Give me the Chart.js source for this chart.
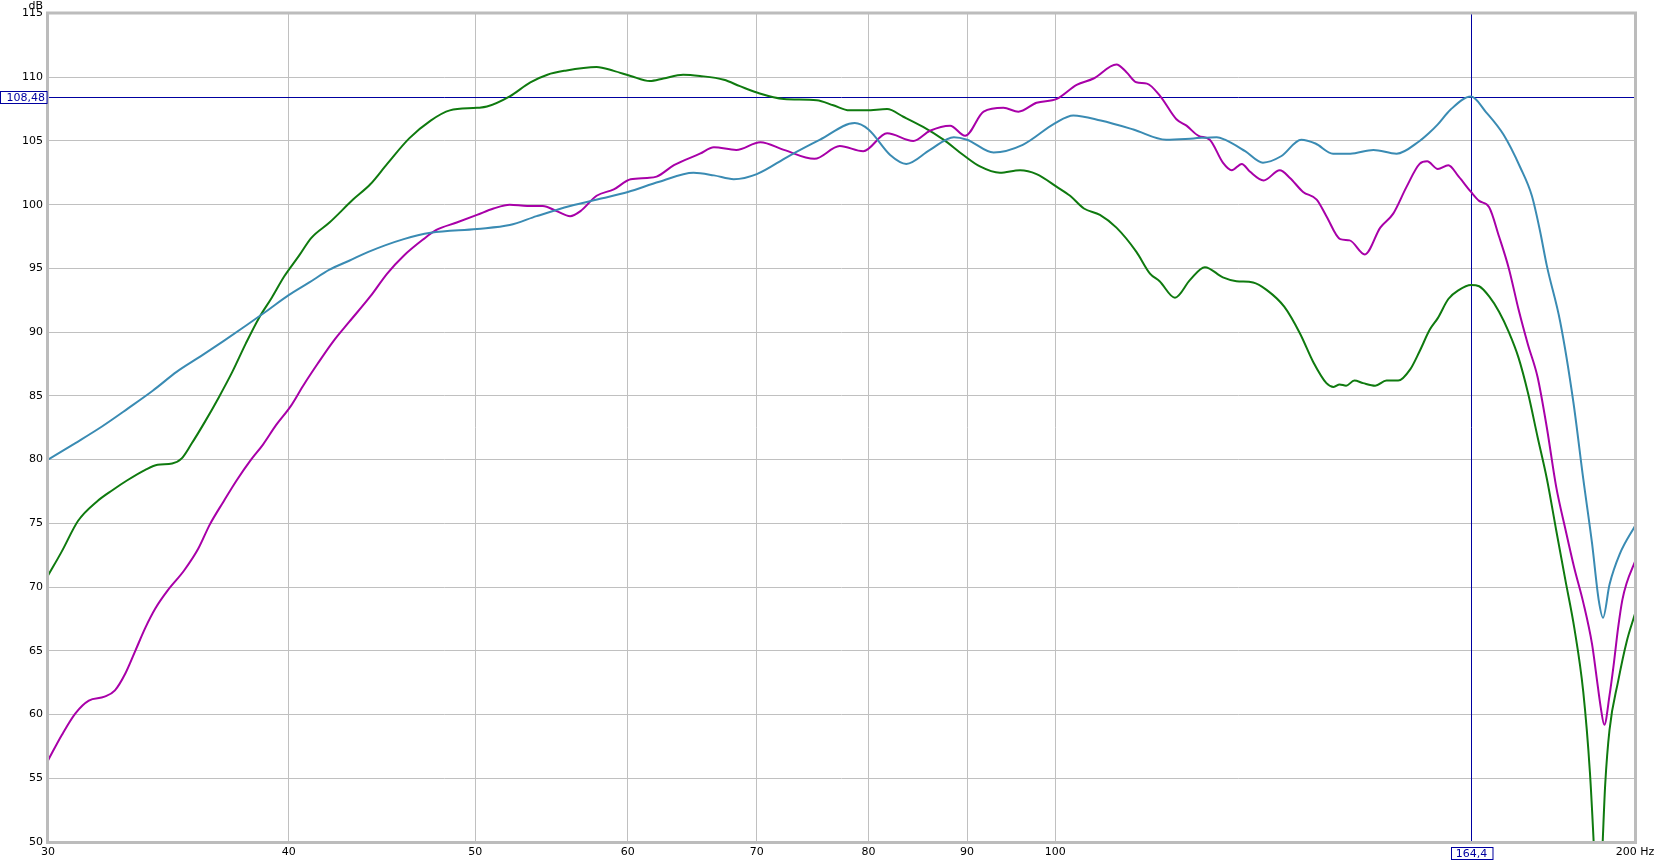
<!DOCTYPE html>
<html>
<head>
<meta charset="utf-8">
<script src="https://cdn.jsdelivr.net/npm/chart.js@4.4.1/dist/chart.umd.min.js"></script>
<style>
	body { margin: 0; background: #fff; }
	canvas { display: block; }
</style>
</head>
<body>
<canvas id="freqChart" width="1659" height="863"></canvas>
<script>

// axis ticks
var xTicks = [30, 40, 50, 60, 70, 80, 90, 100, 200];
var yMin = 50, yMax = 115, yStep = 5;

// cursor readout
var cursorHz = 164.4;
var cursorDb = 108.48;

// green trace
var greenHz = [30, 30.5, 31.1, 31.8, 32.4, 33, 33.7, 34.2, 34.8, 35.2, 35.6, 36.2, 36.8, 37.4, 38, 38.6, 39.2, 39.8, 40.5, 41.1, 42, 43.2, 44.1, 45, 46.2, 47.4, 48.5, 50.1, 50.7, 52.1, 53.4, 54.5, 55.6, 57.8, 59, 60.2, 61.6, 62.6, 64.1, 65.4, 67.3, 68.6, 70, 72.3, 75.2, 76.7, 78.2, 79.8, 81.8, 83.4, 85.4, 87.5, 89.6, 91.4, 93.6, 95.9, 97.8, 100.2, 101.8, 103.5, 105.5, 107.6, 110.2, 112, 113.3, 115.4, 117.5, 119.6, 122.2, 124.2, 126.7, 128.8, 131.5, 134, 136.2, 138.3, 139.5, 140.5, 141.6, 143, 144.5, 146.6, 148.6, 150.7, 152.9, 154.6, 156.5, 158, 160, 162, 164.4, 166, 168, 170, 172, 174, 176, 178, 180, 182, 184, 186, 188, 189.5, 190.5, 191.4, 192.3, 193, 194, 196, 198, 200];
var greenDb = [70.9, 72.8, 75.2, 76.7, 77.6, 78.4, 79.2, 79.6, 79.7, 80.1, 81.2, 83.0, 84.9, 86.9, 89.1, 91.1, 92.7, 94.4, 96.0, 97.4, 98.6, 100.4, 101.6, 103.2, 105.2, 106.6, 107.4, 107.6, 107.7, 108.5, 109.6, 110.2, 110.5, 110.8, 110.5, 110.1, 109.7, 109.9, 110.2, 110.1, 109.8, 109.3, 108.8, 108.3, 108.2, 107.8, 107.4, 107.4, 107.5, 106.9, 106.1, 105.1, 103.9, 103.0, 102.5, 102.7, 102.4, 101.4, 100.7, 99.7, 99.2, 98.2, 96.3, 94.6, 94.0, 92.7, 94.1, 95.1, 94.3, 94.0, 93.9, 93.3, 92.0, 89.9, 87.6, 86.0, 85.7, 85.9, 85.8, 86.2, 86.0, 85.8, 86.2, 86.2, 87.1, 88.5, 90.2, 91.1, 92.6, 93.3, 93.7, 93.6, 92.8, 91.6, 90.0, 88.0, 85.2, 81.8, 78.5, 74.5, 70.6, 66.8, 61.8, 55.5, 49, 42, 49, 54.5, 58.8, 62.6, 65.7, 67.9];

// magenta trace
var magentaHz = [30, 30.5, 31, 31.5, 32.1, 32.5, 32.9, 33.3, 33.7, 34.1, 34.6, 35.3, 35.9, 36.4, 37, 37.6, 38.2, 38.8, 39.4, 40.1, 40.7, 41.4, 42.2, 43, 44.1, 45, 45.9, 47, 47.7, 48.9, 50.1, 51.1, 52.1, 53.2, 54.2, 55.1, 56, 56.7, 57.8, 59, 60.2, 61.4, 62.1, 63.4, 65.4, 66.5, 68.3, 70.3, 72.3, 75, 77.3, 79.5, 81.8, 84.4, 86.1, 88.2, 89.8, 91.8, 94, 95.7, 97.8, 100.2, 102.6, 104.7, 107.6, 108.9, 110.2, 111.6, 113.4, 115.6, 117, 118.7, 120.3, 122.2, 123.5, 125, 126.2, 128.3, 130.8, 132.4, 134.5, 136.7, 138.3, 140.6, 142.2, 144.8, 147.5, 149.8, 152.2, 154.6, 156, 158, 160, 162, 164.4, 166, 168, 170, 172, 174, 176, 178, 180, 182, 184, 186, 188, 190, 191, 192, 192.8, 194, 195, 196, 197, 198, 200];
var magentaDb = [56.4, 58.4, 60.1, 61.1, 61.4, 61.9, 63.2, 65.0, 66.8, 68.3, 69.7, 71.3, 73.0, 74.9, 76.7, 78.4, 79.9, 81.2, 82.7, 84.2, 85.8, 87.5, 89.3, 90.8, 92.8, 94.6, 96.0, 97.3, 98.0, 98.6, 99.2, 99.7, 100.0, 99.9, 99.9, 99.5, 99.1, 99.5, 100.7, 101.2, 102.0, 102.1, 102.2, 103.1, 104.0, 104.5, 104.3, 104.9, 104.3, 103.6, 104.6, 104.2, 105.6, 105.0, 105.8, 106.2, 105.4, 107.3, 107.6, 107.3, 108.0, 108.3, 109.4, 109.9, 111.0, 110.4, 109.6, 109.5, 108.5, 106.7, 106.2, 105.4, 105.1, 103.3, 102.7, 103.2, 102.6, 101.9, 102.7, 102.1, 101.0, 100.4, 99.1, 97.3, 97.2, 96.1, 98.2, 99.3, 101.4, 103.2, 103.4, 102.8, 103.1, 102.2, 101.0, 100.3, 99.8, 97.5, 95.0, 91.8, 89.0, 86.5, 82.5, 77.9, 74.6, 71.5, 68.8, 65.5, 63.0, 60.5, 59.2, 61.5, 64.0, 66.8, 69.0, 70.3, 72.0];

// blue trace
var blueHz = [30, 31, 32, 33, 34, 35, 36, 37, 38, 39, 40, 41, 42, 43, 44, 45.9, 47.4, 50.1, 52.1, 53.8, 56, 58.2, 60, 62.3, 64.9, 66.5, 68.1, 70, 72.7, 75.5, 78.7, 80, 82.1, 83.7, 86.1, 88.6, 90, 92.9, 96.2, 100, 102.2, 105.6, 109.8, 114.2, 118, 121.3, 122.5, 125.5, 128.2, 131, 134.2, 136.5, 139.4, 142.3, 146.3, 150.4, 154.6, 156.3, 158, 160.4, 164.4, 167.4, 170.9, 174.4, 176.8, 178.5, 180, 182.9, 185.8, 188, 190, 191.5, 192.5, 194, 196.4, 200];
var blueDb = [80.0, 81.3, 82.6, 84.0, 85.4, 86.9, 88.1, 89.3, 90.5, 91.7, 92.9, 93.9, 94.9, 95.6, 96.3, 97.3, 97.8, 98.1, 98.4, 99.1, 99.9, 100.5, 101.0, 101.8, 102.5, 102.3, 102.0, 102.4, 103.8, 105.1, 106.4, 105.9, 103.9, 103.2, 104.3, 105.3, 105.1, 104.1, 104.7, 106.4, 107.0, 106.6, 105.9, 105.1, 105.2, 105.3, 105.1, 104.2, 103.3, 103.8, 105.1, 104.8, 104.0, 104.0, 104.3, 104.0, 105.0, 105.6, 106.3, 107.45, 108.48, 107.25, 105.5, 102.9, 100.7, 98.0, 95.2, 90.8, 84.5, 78.5, 73.4, 69.0, 67.6, 70.2, 72.6, 74.8];


var cursorColor = '#0000a0';
var labelFont = '11px "DejaVu Sans"';

function toPoints(hz, db){
	return hz.map(function(f, i){ return { x: f, y: db[i] }; });
}

function commaNum(v){
	return String(v).replace('.', ',');
}

function trace(hz, db, color){
	return {
		data: toPoints(hz, db),
		borderColor: color,
		borderWidth: 2,
		pointRadius: 0,
		fill: false,
		cubicInterpolationMode: 'monotone'
	};
}

// cursor lines, readout boxes and the sunken frame
var cursorPlugin = {
	id: 'cursor',
	beforeDatasetsDraw: function(chart){
		var ctx = chart.ctx, a = chart.chartArea;
		var px = Math.round(chart.scales.x.getPixelForValue(cursorHz)) + 0.5;
		var py = Math.round(chart.scales.y.getPixelForValue(cursorDb)) + 0.5;
		ctx.save();
		ctx.strokeStyle = cursorColor;
		ctx.lineWidth = 1;
		ctx.beginPath();
		ctx.moveTo(a.left, py); ctx.lineTo(a.right, py);
		ctx.moveTo(px, a.top); ctx.lineTo(px, a.bottom);
		ctx.stroke();
		ctx.restore();
	},
	afterDraw: function(chart){
		var ctx = chart.ctx, a = chart.chartArea;
		var px = Math.round(chart.scales.x.getPixelForValue(cursorHz)) + 0.5;
		var py = Math.round(chart.scales.y.getPixelForValue(cursorDb)) + 0.5;

		ctx.save();
		// frame
		ctx.strokeStyle = '#bcbcbc';
		ctx.lineWidth = 3;
		ctx.strokeRect(a.left - 0.5, a.top - 0.5, a.right - a.left + 1, a.bottom - a.top + 1);

		ctx.font = labelFont;
		ctx.lineWidth = 1;
		ctx.textBaseline = 'middle';

		// dB readout box on the left
		var t1 = commaNum(cursorDb);
		ctx.fillStyle = '#fff';
		ctx.fillRect(0.5, py - 6, a.left - 1.5, 12);
		ctx.strokeStyle = cursorColor;
		ctx.strokeRect(0.5, py - 6, a.left - 1.5, 12);
		ctx.fillStyle = cursorColor;
		ctx.textAlign = 'right';
		ctx.fillText(t1, a.left - 3, py + 0.5);

		// Hz readout box under the axis
		var t2 = commaNum(cursorHz);
		var w = ctx.measureText(t2).width + 10;
		var bx = Math.round(px - w / 2) + 0.5;
		ctx.fillStyle = '#fff';
		ctx.fillRect(bx, a.bottom + 5.5, w, 12);
		ctx.strokeStyle = cursorColor;
		ctx.strokeRect(bx, a.bottom + 5.5, w, 12);
		ctx.fillStyle = cursorColor;
		ctx.textAlign = 'center';
		ctx.fillText(t2, px, a.bottom + 12);

		// unit label above the y axis
		ctx.fillStyle = '#000';
		ctx.textAlign = 'right';
		ctx.textBaseline = 'alphabetic';
		ctx.fillText('dB', a.left - 5, 9);
		ctx.restore();
	}
};

Chart.defaults.font.family = '"DejaVu Sans"';
Chart.defaults.font.size = 11;
Chart.defaults.color = '#000';

var chart = new Chart(document.getElementById('freqChart').getContext('2d'), {
	type: 'line',
	data: {
		datasets: [
			trace(blueHz, blueDb, '#3a8bb3'),
			trace(magentaHz, magentaDb, '#a800a8'),
			trace(greenHz, greenDb, '#0f7a0f')
		]
	},
	options: {
		responsive: false,
		animation: false,
		layout: { padding: { top: 13.5, right: 24, left: 0, bottom: 0 } },
		plugins: { legend: { display: false }, tooltip: { enabled: false } },
		scales: {
			x: {
				type: 'logarithmic',
				min: 30,
				max: 200,
				afterBuildTicks: function(scale){
					scale.ticks = xTicks.map(function(v){ return { value: v }; });
				},
				afterFit: function(scale){ scale.height = 21; },
				ticks: {
					autoSkip: false,
					maxRotation: 0,
					padding: 4,
					callback: function(v){ return v === 200 ? '200 Hz' : String(v); }
				},
				grid: { color: '#c0c0c0', drawTicks: false },
				border: { display: false }
			},
			y: {
				min: yMin,
				max: yMax,
				ticks: { stepSize: yStep, padding: 5 },
				afterFit: function(scale){ scale.width = 48; },
				grid: { color: '#c0c0c0', drawTicks: false },
				border: { display: false }
			}
		}
	},
	plugins: [cursorPlugin]
});

</script>
</body>
</html>
